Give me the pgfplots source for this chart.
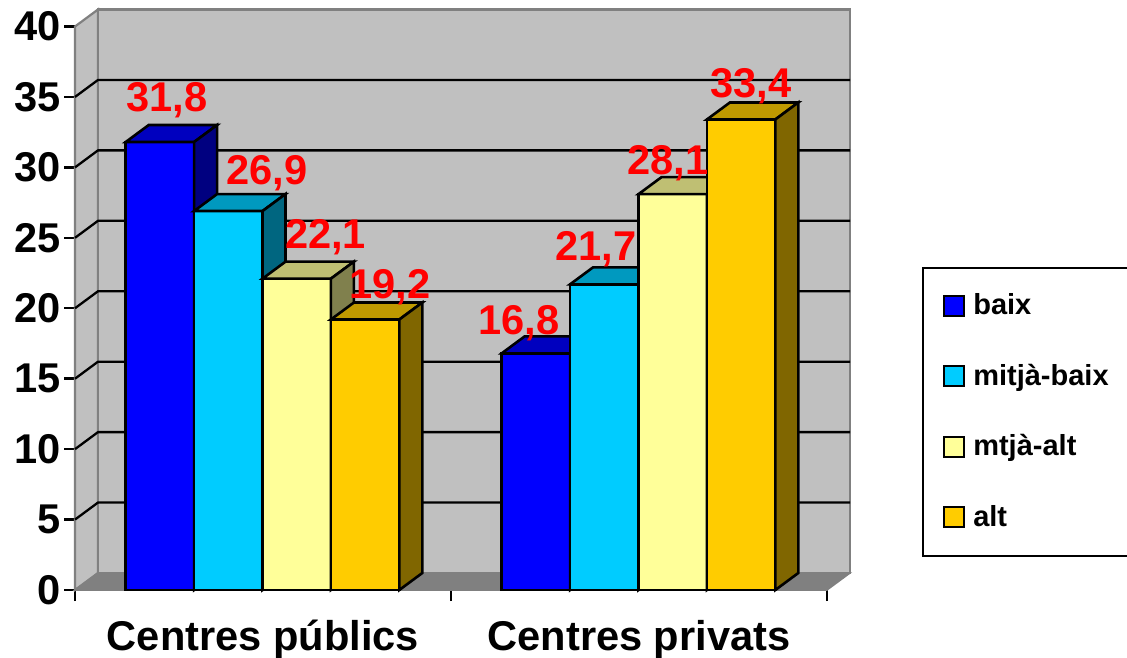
\documentclass[border=0pt]{standalone}
\usepackage{fontspec}
\setmainfont{Liberation Sans}
\usepackage{pgfplots}
\pgfplotsset{compat=1.18}

\definecolor{wall}{HTML}{C0C0C0}
\definecolor{walledge}{HTML}{808080}
\definecolor{floorfill}{HTML}{808080}
\definecolor{bluefront}{HTML}{0000FF}\definecolor{bluetop}{HTML}{0000BF}\definecolor{blueside}{HTML}{000080}
\definecolor{cyanfront}{HTML}{00CCFF}\definecolor{cyantop}{HTML}{0099BF}\definecolor{cyanside}{HTML}{006680}
\definecolor{yelfront}{HTML}{FFFF99}\definecolor{yeltop}{HTML}{BFBF73}\definecolor{yelside}{HTML}{80804D}
\definecolor{goldfront}{HTML}{FFCC00}\definecolor{goldtop}{HTML}{BF9900}\definecolor{goldside}{HTML}{806600}

% depth of the 3D projection, in axis units
\def\dx{23}
\def\dy{1.2066}
\def\barw{68.4}

% one 3D column: left edge, value, front / top / side colours
\newcommand{\column}[5]{%
  \pgfmathsetmacro\xr{#1+\barw}%
  \pgfmathsetmacro\xa{#1+\dx}%
  \pgfmathsetmacro\xb{#1+\barw+\dx}%
  \pgfmathsetmacro\yb{#2+\dy}%
  \pgfmathsetmacro\yz{\dy}%
  \addplot[forget plot,fill=#3,draw=black,line width=2.6pt] coordinates {(#1,0)(\xr,0)(\xr,#2)(#1,#2)} -- cycle;
  \addplot[forget plot,fill=#4,draw=black,line width=2.6pt] coordinates {(#1,#2)(\xr,#2)(\xb,\yb)(\xa,\yb)} -- cycle;
  \addplot[forget plot,fill=#5,draw=black,line width=2.6pt] coordinates {(\xr,0)(\xb,\yz)(\xb,\yb)(\xr,#2)} -- cycle;
}
% red value label: centre x, value, rise above the front top edge
\newcommand{\valuelabel}[3]{%
  \addplot[forget plot,draw=none,mark=none,
    point meta=y,nodes near coords,
    every node near coord/.style={anchor=base,yshift=#3pt,inner sep=0pt,text=red,
      font=\fontsize{41.6}{45}\selectfont\bfseries,
      /pgf/number format/fixed,/pgf/number format/precision=1,
      /pgf/number format/use comma,/pgf/number format/assume math mode=true}]
    coordinates {(#1,#2)};
}
% gridline across the side wall and the back wall
\newcommand{\gridrow}[1]{%
  \pgfmathsetmacro\yg{#1+\dy}%
  \addplot[forget plot,black,line width=2.3pt] coordinates {(75,#1)(98,\yg)(850,\yg)};
}

\begin{document}
\begin{tikzpicture}[x=1pt,y=1pt]
\path[use as bounding box] (0,0) rectangle (1127,657);
\begin{axis}[
  at={(75pt,67pt)},anchor=south west,
  scale only axis,width=752pt,height=563.5pt,
  xmin=75,xmax=827,ymin=0,ymax=40,
  clip=false,
  axis lines=left,
  axis line style={-,line width=2.4pt,black},
  ytick={0,5,...,40},
  xtick={75,451,827},
  xticklabels={},
  extra x ticks={263,639},
  extra x tick labels={Centres públics,Centres privats},
  extra x tick style={major tick length=0pt,
    xticklabel style={yshift=-30pt,text height=30pt,text depth=8.7pt,inner sep=0pt}},
  tick style={black,line width=2.4pt},
  tick align=outside,
  major tick length=11pt,
  ticklabel style={font=\fontsize{41.6}{45}\selectfont\bfseries},
  /pgf/number format/assume math mode=true,
  yticklabel style={inner xsep=3pt},
  legend cell align=left,
  legend style={
    at={(1.1263,0.5732)},anchor=north west,
    draw=black,line width=2.2pt,fill=white,
    inner xsep=20pt,inner ysep=25.5pt,
    row sep=45.5pt,
    font=\fontsize{29}{32}\selectfont\bfseries,
    nodes={text height=21pt,text depth=4pt,inner sep=0pt,line width=0pt},
    /tikz/every odd column/.append style={column sep=8pt},
  },
  legend image code/.code={\draw[#1,line width=2.2pt] (0pt,-9.5pt) rectangle (20pt,10.5pt);},
]
% walls and floor
\addplot[forget plot,fill=wall,draw=walledge,line width=2.2pt] coordinates {(75,0)(98,1.2066)(98,41.2066)(75,40)} -- cycle;
\addplot[forget plot,fill=wall,draw=walledge,line width=2.2pt] coordinates {(98,1.2066)(850,1.2066)(850,41.2066)(98,41.2066)} -- cycle;
\addplot[forget plot,fill=floorfill,draw=walledge,line width=1.5pt] coordinates {(75,0)(827,0)(850,1.2066)(98,1.2066)} -- cycle;
\gridrow{5}\gridrow{10}\gridrow{15}\gridrow{20}\gridrow{25}\gridrow{30}\gridrow{35}
% Centres públics
\column{125.7}{31.8}{bluefront}{bluetop}{blueside}
\column{194.1}{26.9}{cyanfront}{cyantop}{cyanside}
\column{262.5}{22.1}{yelfront}{yeltop}{yelside}
\column{330.9}{19.2}{goldfront}{goldtop}{goldside}
% Centres privats
\column{501.7}{16.8}{bluefront}{bluetop}{blueside}
\column{570.1}{21.7}{cyanfront}{cyantop}{cyanside}
\column{638.5}{28.1}{yelfront}{yeltop}{yelside}
\column{706.9}{33.4}{goldfront}{goldtop}{goldside}
% value labels
\valuelabel{166.8}{31.8}{31}
\valuelabel{266.7}{26.9}{27}
\valuelabel{325.5}{22.1}{30}
\valuelabel{390}{19.2}{21.5}
\valuelabel{519}{16.8}{19}
\valuelabel{596}{21.7}{24}
\valuelabel{668}{28.1}{20}
\valuelabel{751}{33.4}{22}
% legend
\addlegendimage{fill=bluefront,draw=black}\addlegendentry{baix}
\addlegendimage{fill=cyanfront,draw=black}\addlegendentry{mitjà-baix}
\addlegendimage{fill=yelfront,draw=black}\addlegendentry{mtjà-alt}
\addlegendimage{fill=goldfront,draw=black}\addlegendentry{alt}
\end{axis}
\end{tikzpicture}
\end{document}
